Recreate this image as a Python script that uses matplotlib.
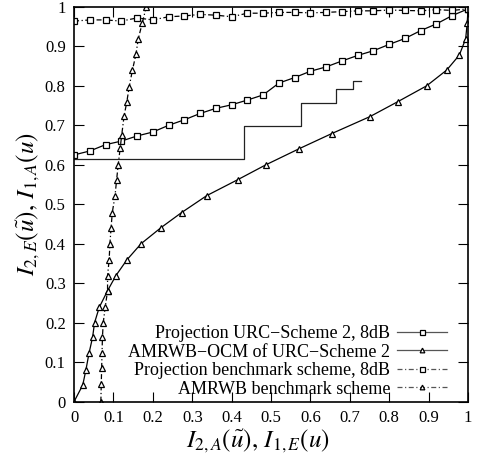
import matplotlib
matplotlib.use("Agg")
import matplotlib.pyplot as plt

plt.rcParams['font.family'] = ['Liberation Serif', 'DejaVu Serif']
plt.rcParams['mathtext.fontset'] = 'stix'

# Projection URC-Scheme 2, 8dB
proj_x = [0.00, 0.04, 0.08, 0.12, 0.16, 0.20, 0.24, 0.28, 0.32, 0.36, 0.40, 0.44, 0.48,
          0.52, 0.56, 0.60, 0.64, 0.68, 0.72, 0.76, 0.80, 0.84, 0.88, 0.92, 0.96, 1.00]
proj_y = [0.625, 0.635, 0.651, 0.660, 0.673, 0.683, 0.700, 0.714, 0.730, 0.743, 0.752, 0.764, 0.777,
          0.807, 0.821, 0.837, 0.848, 0.863, 0.877, 0.889, 0.905, 0.920, 0.940, 0.957, 0.978, 0.995]

# AMRWB-OCM of URC-Scheme 2
ocm_x = [0.000, 0.022, 0.030, 0.038, 0.047, 0.052, 0.064, 0.085, 0.106, 0.134, 0.170, 0.221, 0.273,
         0.337, 0.415, 0.487, 0.572, 0.654, 0.751, 0.822, 0.895, 0.946, 0.978, 0.994, 0.998, 1.000]
ocm_y = [0.000, 0.042, 0.080, 0.123, 0.163, 0.200, 0.239, 0.281, 0.319, 0.359, 0.400, 0.441, 0.479,
         0.522, 0.562, 0.600, 0.641, 0.679, 0.722, 0.760, 0.800, 0.840, 0.878, 0.919, 0.959, 0.995]

# Projection benchmark scheme, 8dB
bproj_x = proj_x
bproj_y = [0.964, 0.967, 0.967, 0.964, 0.972, 0.967, 0.975, 0.977, 0.981, 0.979, 0.975, 0.984, 0.984,
           0.986, 0.986, 0.985, 0.986, 0.988, 0.990, 0.990, 0.992, 0.991, 0.990, 0.993, 0.991, 0.995]

# AMRWB benchmark scheme
bamr_x = [0.068, 0.069, 0.070, 0.071, 0.072, 0.074, 0.079, 0.085, 0.085, 0.089, 0.091, 0.094, 0.097,
          0.104, 0.108, 0.112, 0.117, 0.121, 0.127, 0.134, 0.140, 0.148, 0.157, 0.163, 0.173, 0.183]
bamr_y = [0.000, 0.044, 0.085, 0.123, 0.163, 0.200, 0.239, 0.281, 0.319, 0.359, 0.400, 0.441, 0.479,
          0.522, 0.562, 0.600, 0.642, 0.676, 0.724, 0.760, 0.798, 0.839, 0.880, 0.919, 0.959, 0.999]

# Decoding trajectory (staircase)
stair_x = [0.0, 0.432, 0.575, 0.664, 0.707, 0.728]
stair_y = [0.614, 0.697, 0.756, 0.791, 0.812, 0.812]

ticks = [0, 0.1, 0.2, 0.3, 0.4, 0.5, 0.6, 0.7, 0.8, 0.9, 1]
tick_labels = ['0', '0.1', '0.2', '0.3', '0.4', '0.5', '0.6', '0.7', '0.8', '0.9', '1']

fig = plt.figure(figsize=(4.81, 4.59), dpi=100)
ax = fig.add_axes([0.154, 0.125, 0.819, 0.860])

dashdot = (0, (4, 2, 1, 2))
mk = dict(mfc='white', mec='black', mew=0.9)
ax.plot(proj_x, proj_y, '-', color='black', lw=0.9, marker='s', ms=4.5, **mk,
        label='Projection URC\u2212Scheme 2, 8dB')
ax.plot(ocm_x, ocm_y, '-', color='black', lw=0.9, marker='^', ms=4.2, **mk,
        label='AMRWB\u2212OCM of URC\u2212Scheme 2')
ax.plot(bproj_x, bproj_y, linestyle=dashdot, color='black', lw=0.9, marker='s', ms=4.5, **mk,
        label='Projection benchmark scheme, 8dB')
ax.plot(bamr_x, bamr_y, linestyle=dashdot, color='black', lw=0.9, marker='^', ms=4.2, **mk,
        label='AMRWB benchmark scheme')
ax.step(stair_x, stair_y, where='post', color='#222222', lw=0.9)

ax.set_xlim(0, 1)
ax.set_ylim(0, 1)
ax.set_xticks(ticks)
ax.set_xticklabels(tick_labels)
ax.set_yticks(ticks)
ax.set_yticklabels(tick_labels)
ax.tick_params(direction='in', length=7, width=0.8, top=True, right=True, labelsize=12, pad=6)
for s in ax.spines.values():
    s.set_linewidth(1.2)

ax.set_xlabel(r'$I_{2,A}(\tilde{u}),\, I_{1,E}(u)$', fontsize=18, labelpad=1)
ax.xaxis.set_label_coords(0.467, -0.065, transform=ax.transAxes)
ax.xaxis.label.set_va('top')
ax.set_ylabel(r'$I_{2,E}(\tilde{u}),\, I_{1,A}(u)$', fontsize=18, labelpad=2)

leg = ax.legend(loc='lower right', bbox_to_anchor=(0.947, 0.01), frameon=False, markerfirst=False,
                fontsize=13, labelspacing=0.08, handlelength=2.8, handletextpad=0.35,
                borderpad=0, borderaxespad=0, markerscale=0.8)
for line in leg.get_lines():
    line.set_color('#555555')
    line.set_markeredgecolor('black')

fig.savefig('out.png', dpi=100)
